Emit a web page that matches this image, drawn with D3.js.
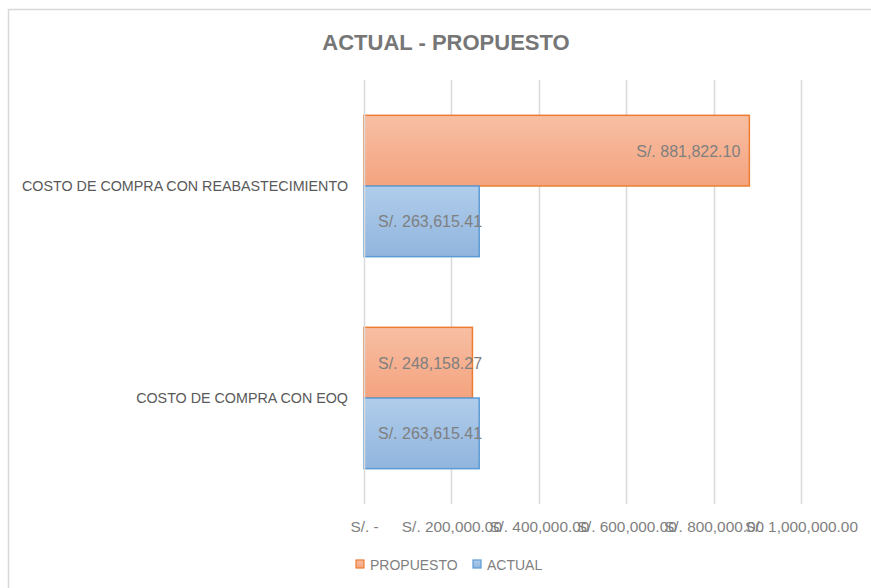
<!DOCTYPE html>
<html>
<head>
<meta charset="utf-8">
<script src="https://cdn.jsdelivr.net/npm/d3@7"></script>
<style>
  body { margin: 0; background: #fff; }
  svg { display: block; font-family: "Liberation Sans", Arial, sans-serif; }
</style>
</head>
<body>
<div id="chart"></div>
<script>
// Data
var categories = ["COSTO DE COMPRA CON REABASTECIMIENTO", "COSTO DE COMPRA CON EOQ"];
var seriesNames = ["PROPUESTO", "ACTUAL"];
var propuesto = [881822.10, 248158.27];
var actual = [263615.41, 263615.41];
var ticks = [0, 200000, 400000, 600000, 800000, 1000000];

var w = 871, h = 588;
var plot = { left: 364, right: 801, top: 80, bottom: 504 };

var colors = {
    PROPUESTO: { top: "#f7bfa3", bottom: "#f4a37f", stroke: "#ed7d31" },
    ACTUAL: { top: "#b0cdeb", bottom: "#91b5de", stroke: "#5b9bd5" }
};

function fmt(v) {
    if (v === 0) return "S/. -";
    return "S/. " + d3.format(",.2f")(v);
}

function draw() {
    var svg = d3.select("#chart").append("svg")
        .attr("width", w)
        .attr("height", h);

    // Gradients
    var defs = svg.append("defs");
    seriesNames.forEach(function (s) {
        var g = defs.append("linearGradient")
            .attr("id", "grad-" + s)
            .attr("x1", 0).attr("y1", 0).attr("x2", 0).attr("y2", 1);
        g.append("stop").attr("offset", "0%").attr("stop-color", colors[s].top);
        g.append("stop").attr("offset", "100%").attr("stop-color", colors[s].bottom);
    });

    // Chart frame
    svg.append("rect")
        .attr("x", 8.5).attr("y", 9.5)
        .attr("width", 900).attr("height", 700)
        .attr("fill", "none")
        .attr("stroke", "#d9d9d9")
        .attr("stroke-width", 1.5);

    // Title
    svg.append("text")
        .attr("x", 446).attr("y", 50)
        .attr("text-anchor", "middle")
        .attr("font-size", 22)
        .attr("font-weight", "bold")
        .attr("fill", "#767676")
        .text("ACTUAL - PROPUESTO");

    // Scales
    var x = d3.scaleLinear().domain([0, 1000000]).range([plot.left, plot.right]);
    var y0 = d3.scaleBand().domain(categories).range([plot.top, plot.bottom]).paddingInner(0).paddingOuter(0);
    var y1 = d3.scaleBand().domain(seriesNames).range([0, y0.bandwidth()]).paddingInner(0).paddingOuter(0.5);

    // Gridlines
    svg.append("g").selectAll("line")
        .data(ticks.slice(1))
        .enter().append("line")
        .attr("x1", function (d) { return Math.round(x(d)) + 0.5; })
        .attr("x2", function (d) { return Math.round(x(d)) + 0.5; })
        .attr("y1", plot.top).attr("y2", plot.bottom)
        .attr("stroke", "#d9d9d9")
        .attr("stroke-width", 1.5);

    // X axis (tick labels)
    var xAxis = d3.axisBottom(x).tickValues(ticks).tickFormat(fmt).tickSize(0).tickPadding(0);
    var ax = svg.append("g")
        .attr("transform", "translate(0," + (plot.bottom + 17) + ")")
        .call(xAxis);
    ax.select(".domain").remove();
    ax.selectAll("text")
        .attr("font-size", 15.4)
        .attr("font-family", "Liberation Sans, Arial, sans-serif")
        .attr("fill", "#7f7f7f");

    // Bars
    var rows = categories.map(function (c, i) {
        return [
            { cat: c, s: "PROPUESTO", v: propuesto[i] },
            { cat: c, s: "ACTUAL", v: actual[i] }
        ];
    });

    var groups = svg.append("g").selectAll("g.cat")
        .data(rows)
        .enter().append("g")
        .attr("class", "cat")
        .attr("transform", function (d) { return "translate(0," + y0(d[0].cat) + ")"; });

    groups.selectAll("rect")
        .data(function (d) { return d; })
        .enter().append("rect")
        .attr("x", x(0))
        .attr("y", function (d) { return y1(d.s); })
        .attr("width", function (d) { return x(d.v) - x(0); })
        .attr("height", y1.bandwidth())
        .attr("fill", function (d) { return "url(#grad-" + d.s + ")"; })
        .attr("stroke", function (d) { return colors[d.s].stroke; })
        .attr("stroke-width", 1.5);

    // Data labels
    groups.selectAll("text.lbl")
        .data(function (d) { return d; })
        .enter().append("text")
        .attr("class", "lbl")
        .attr("x", function (d) { return d.v > 500000 ? x(d.v) - 9 : x(0) + 14; })
        .attr("y", function (d) { return y1(d.s) + y1.bandwidth() / 2 + 6; })
        .attr("text-anchor", function (d) { return d.v > 500000 ? "end" : "start"; })
        .attr("font-size", 16)
        .attr("fill", "#7f7f7f")
        .text(function (d) { return fmt(d.v); });

    // Value axis line
    svg.append("line")
        .attr("x1", x(0) + 0.5).attr("x2", x(0) + 0.5)
        .attr("y1", plot.top).attr("y2", plot.bottom)
        .attr("stroke", "#d9d9d9")
        .attr("stroke-width", 1.5);

    // Category labels
    svg.append("g").selectAll("text")
        .data(categories)
        .enter().append("text")
        .attr("x", 348)
        .attr("y", function (d) { return y0(d) + y0.bandwidth() / 2 + 5; })
        .attr("text-anchor", "end")
        .attr("font-size", 14.3)
        .attr("fill", "#595959")
        .text(function (d) { return d; });

    // Legend
    var legend = svg.append("g").attr("transform", "translate(356,560)");
    var lx = [0, 117];
    seriesNames.forEach(function (s, i) {
        var item = legend.append("g").attr("transform", "translate(" + lx[i] + ",0)");
        item.append("rect")
            .attr("x", 0).attr("y", 0)
            .attr("width", 8).attr("height", 8)
            .attr("fill", "url(#grad-" + s + ")")
            .attr("stroke", colors[s].stroke)
            .attr("stroke-width", 1.2);
        item.append("text")
            .attr("x", 14).attr("y", 9.5)
            .attr("font-size", 14)
            .attr("fill", "#7f7f7f")
            .text(s);
    });
}

draw();
</script>
</body>
</html>
